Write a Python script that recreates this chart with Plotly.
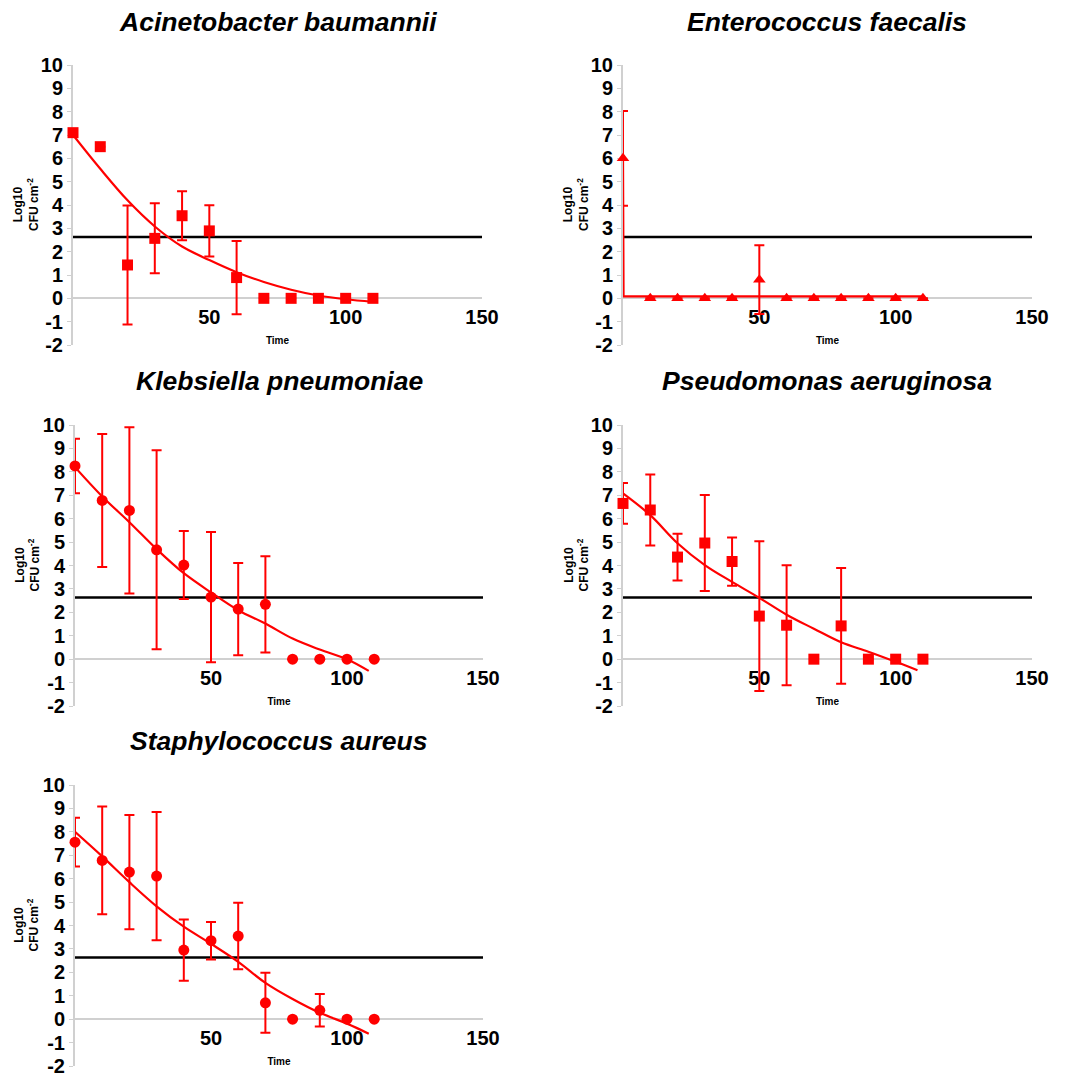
import plotly.graph_objects as go

# ---------------- data ----------------
titles = ["Acinetobacter baumannii", "Enterococcus faecalis", "Klebsiella pneumoniae",
          "Pseudomonas aeruginosa", "Staphylococcus aureus"]
symbols = ["square", "triangle-up", "circle", "square", "circle"]

time_pts = [0, 10, 20, 30, 40, 50, 60, 70, 80, 90, 100, 110]

ab_y   = [7.1, 6.5, 1.43, 2.57, 3.54, 2.89, 0.89, 0, 0, 0, 0, 0]
ab_err = [0, 0, 2.55, 1.5, 1.05, 1.1, 1.57, 0, 0, 0, 0, 0]
ef_y   = [6.0, 0, 0, 0, 0, 0.8, 0, 0, 0, 0, 0, 0]
ef_err = [2.03, 0, 0, 0, 0, 1.47, 0, 0, 0, 0, 0, 0]
kp_y   = [8.25, 6.78, 6.35, 4.67, 4.02, 2.65, 2.14, 2.34, 0, 0, 0, 0]
kp_err = [1.16, 2.84, 3.55, 4.25, 1.45, 2.78, 1.97, 2.05, 0, 0, 0, 0]
pa_y   = [6.65, 6.37, 4.36, 4.96, 4.17, 1.84, 1.45, 0, 1.42, 0, 0, 0]
pa_err = [0.87, 1.52, 1.0, 2.05, 1.03, 3.2, 2.56, 0, 2.47, 0, 0, 0]
sa_y   = [7.56, 6.78, 6.28, 6.11, 2.95, 3.35, 3.55, 0.7, 0, 0.38, 0, 0]
sa_err = [1.04, 2.3, 2.44, 2.74, 1.31, 0.8, 1.42, 1.28, 0, 0.69, 0, 0]

# fitted curves
fit_x_std = [0, 10, 20, 30, 40, 50, 60, 70, 80, 90, 100, 108]
ab_fit_x = [0, 10, 20, 30, 40, 50, 60, 70, 80, 90, 100, 110]
ab_fit_y = [7.0, 5.55, 4.2, 3.08, 2.22, 1.64, 1.12, 0.7, 0.37, 0.12, -0.04, -0.15]
ef_fit_x = [0, 0.2, 110]
ef_fit_y = [6.0, 0.08, 0.08]
kp_fit_y = [8.2, 6.95, 5.85, 4.7, 3.67, 2.85, 2.09, 1.52, 0.88, 0.41, 0.0, -0.5]
pa_fit_y = [7.08, 6.15, 4.95, 4.02, 3.3, 2.62, 1.9, 1.3, 0.72, 0.32, -0.11, -0.47]
sa_fit_y = [8.0, 6.95, 5.85, 4.82, 3.95, 3.22, 2.45, 1.55, 0.86, 0.27, -0.19, -0.62]

threshold = 2.63
threshold_x = [0, 150]

ytick_vals = [-2, -1, 0, 1, 2, 3, 4, 5, 6, 7, 8, 9, 10]
ytick_text = ["-2", "-1", "0", "1", "2", "3", "4", "5", "6", "7", "8", "9", "10"]
xtick_vals = [50, 100, 150]
xtick_text = ["50", "100", "150"]
x_title = "Time"
y_title = "Log10<br>CFU cm<sup>-2</sup>"

panels = [
    (ab_y, ab_err, ab_fit_x, ab_fit_y, "spline"),
    (ef_y, ef_err, ef_fit_x, ef_fit_y, "linear"),
    (kp_y, kp_err, fit_x_std, kp_fit_y, "spline"),
    (pa_y, pa_err, fit_x_std, pa_fit_y, "spline"),
    (sa_y, sa_err, fit_x_std, sa_fit_y, "spline"),
]

# ---------------- layout geometry (screen pixels) ----------------
OFF = 8                       # default body margin of the html page
W, H = 1079 - OFF, 1076 - OFF
xdom_px = [(73, 482), (623, 1032), (75, 483), (623, 1032), (75, 483)]
ydom_px = [(65, 345), (65, 345), (425, 706), (425, 706), (785, 1066)]
title_y_px = [22, 22, 381, 381, 741]
ytitle_x_px = [26, 576, 27, 576, 27]

RED = "#ff0000"
AX = "#d0d0d0"
FONT = "Arial, Liberation Sans, sans-serif"

fig = go.Figure()
layout = dict(
    width=W, height=H, margin=dict(l=0, r=0, t=0, b=0, pad=0, autoexpand=False),
    paper_bgcolor="white", plot_bgcolor="white", showlegend=False,
    font=dict(family=FONT, color="black"),
)
annotations = []

for i, (yv, ev, fx, fy, shp) in enumerate(panels):
    n = "" if i == 0 else str(i + 1)
    xa, ya = "x" + n, "y" + n
    x0, x1 = xdom_px[i]
    t, b = ydom_px[i]
    xd = [(x0 - OFF) / W, (x1 - OFF) / W]
    yd = [1 - (b - OFF) / H, 1 - (t - OFF) / H]
    zero_pos = yd[0] + (yd[1] - yd[0]) * 2 / 12

    fig.add_trace(go.Scatter(x=threshold_x, y=[threshold, threshold], mode="lines",
                             line=dict(color="black", width=2.5), xaxis=xa, yaxis=ya,
                             hoverinfo="skip", cliponaxis=False))
    fig.add_trace(go.Scatter(x=fx, y=fy, mode="lines", line=dict(color=RED, width=2.2, shape=shp),
                             xaxis=xa, yaxis=ya, hoverinfo="skip", cliponaxis=False))
    fig.add_trace(go.Scatter(x=time_pts, y=yv, mode="markers",
                             marker=dict(symbol=symbols[i], color=RED, size=11),
                             error_y=dict(type="data", array=ev, visible=True, color=RED,
                                          thickness=2, width=5),
                             cliponaxis=False, xaxis=xa, yaxis=ya))

    layout["xaxis" + n] = dict(
        domain=xd, range=[0, 150], anchor="free", position=zero_pos, automargin=False,
        layer="below traces", ticklabeloverflow="allow",
        showline=True, linecolor=AX, linewidth=2, showgrid=False, zeroline=False,
        tickvals=xtick_vals, ticktext=xtick_text, ticks="outside", ticklen=1,
        tickcolor="rgba(0,0,0,0)",
        tickfont=dict(family=FONT, size=20, color="black", weight="bold"),
        title=dict(text=x_title, font=dict(family=FONT, size=10, color="black", weight="bold"),
                   standoff=9),
    )
    layout["yaxis" + n] = dict(
        domain=yd, range=[-2, 10], anchor=xa, automargin=False, layer="below traces",
        ticklabeloverflow="allow",
        showline=True, linecolor=AX, linewidth=2, showgrid=False, zeroline=False,
        tickvals=ytick_vals, ticktext=ytick_text, ticks="outside", ticklen=4,
        tickcolor=AX, tickwidth=1,
        tickfont=dict(family=FONT, size=20, color="black", weight="bold"),
    )
    annotations.append(dict(
        text="<b><i>" + titles[i] + "</i></b>", xref="paper", yref="paper",
        x=(xd[0] + xd[1]) / 2, y=1 - (title_y_px[i] - OFF) / H, xanchor="center", yanchor="middle",
        showarrow=False, font=dict(family=FONT, size=26.5, color="black"),
    ))
    annotations.append(dict(
        text="<b>" + y_title + "</b>", xref="paper", yref=ya + " domain",
        x=(ytitle_x_px[i] - OFF) / W, y=0.5, xanchor="center", yanchor="middle",
        textangle=-90, showarrow=False,
        font=dict(family=FONT, size=12, color="black"),
    ))

layout["annotations"] = annotations
fig.update_layout(**layout)
fig.write_html("out.html")
